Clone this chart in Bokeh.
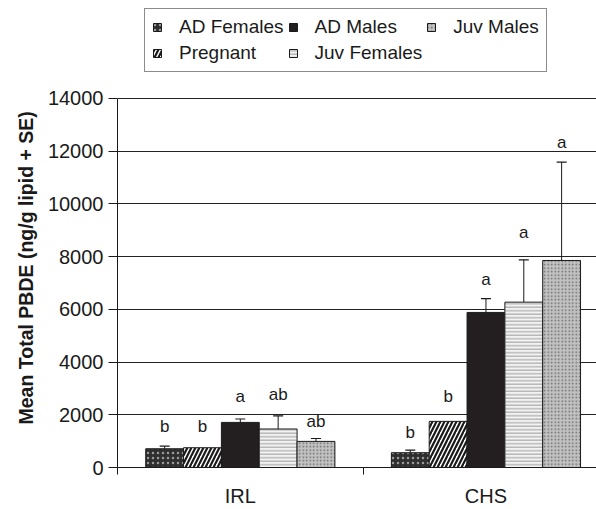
from bokeh.plotting import figure
from bokeh.models import (Range1d, FixedTicker, Legend, LegendItem, Title,
                          ColumnDataSource, Whisker, TeeHead, BasicTickFormatter)
from bokeh.embed import file_html
from bokeh.resources import INLINE
from bokeh.core.properties import value

# ---- data ----
sites = ["IRL", "CHS"]
groups = ["AD Females", "Pregnant", "AD Males", "Juv Females", "Juv Males"]
mean_ad_females = [710, 560]
mean_pregnant = [750, 1750]
mean_ad_males = [1710, 5880]
mean_juv_females = [1460, 6270]
mean_juv_males = [990, 7850]
se_top_ad_females = [810, 660]
se_top_pregnant = [None, None]
se_top_ad_males = [1840, 6400]
se_top_juv_females = [1960, 7870]
se_top_juv_males = [1100, 11580]
letters_irl = ["b", "b", "a", "ab", "ab"]
letters_chs = ["b", "b", "a", "a", "a"]
letter_y_irl = [1560, 1560, 2710, 2770, 1760]
letter_y_chs = [1320, 2710, 7120, 8910, 12310]
y_ticks = [0, 2000, 4000, 6000, 8000, 10000, 12000, 14000]
y_title = "Mean Total PBDE (ng/g lipid + SE)"

means = [mean_ad_females, mean_pregnant, mean_ad_males, mean_juv_females, mean_juv_males]
tops = [se_top_ad_females, se_top_pregnant, se_top_ad_males, se_top_juv_females, se_top_juv_males]

FONT = "Liberation Sans"
bar_w = 0.154
centers = [i + 0.5 for i in range(len(sites))]
y_max = y_ticks[-1]
# frame reaches the top of the canvas (room for the legend); axis max sits 98px below
y_view_end = y_max * 468.0 / 370.0

styles = [
    dict(fill_color="#2e2e2e", hatch_pattern=".", hatch_color="#9a9a9a", hatch_scale=5, hatch_weight=1.5),
    dict(fill_color="white", hatch_pattern="/", hatch_color="#1a1a1a", hatch_scale=8, hatch_weight=2.2),
    dict(fill_color="#231f20"),
    dict(fill_color="#f2f2f2", hatch_pattern="-", hatch_color="#b4b4b4", hatch_scale=3.5, hatch_weight=1.4),
    dict(fill_color="#c2c2c2", hatch_pattern=".", hatch_color="#6a6a6a", hatch_scale=3.5, hatch_weight=1.3),
]

p = figure(width=596, height=509, output_backend="svg", toolbar_location=None,
           x_range=Range1d(0, 1.95), y_range=Range1d(0, y_view_end),
           min_border_left=117, min_border_top=0, min_border_bottom=41, min_border_right=0)
p.outline_line_color = None
p.background_fill_color = "white"
p.border_fill_color = "white"

renderers = []
for gi, g in enumerate(groups):
    xs = [c + (gi - 2) * bar_w for c in centers]
    src = ColumnDataSource(dict(x=xs, top=means[gi]))
    r = p.vbar(x="x", top="top", width=bar_w, bottom=0, source=src,
               line_color="#1a1a1a", line_width=1, **styles[gi])
    renderers.append(r)
    if tops[gi][0] is not None:
        wsrc = ColumnDataSource(dict(x=xs, lower=means[gi], upper=tops[gi]))
        w = Whisker(base="x", lower="lower", upper="upper", source=wsrc, dimension="height",
                    line_color="#1a1a1a", line_width=1,
                    upper_head=TeeHead(size=10, line_color="#1a1a1a", line_width=1.2),
                    lower_head=None)
        p.add_layout(w)

# significance letters
lx, ly, lt = [], [], []
for si, (letters, ys) in enumerate([(letters_irl, letter_y_irl), (letters_chs, letter_y_chs)]):
    for gi in range(len(groups)):
        lx.append(centers[si] + (gi - 2) * bar_w)
        ly.append(ys[gi])
        lt.append(letters[gi])
p.text(x=lx, y=ly, text=lt, text_align="center", text_baseline="middle",
       text_font=value(FONT), text_font_size="17px", text_color="#1a1a1a")

# grid
p.xgrid.visible = False
p.ygrid.ticker = FixedTicker(ticks=y_ticks)
p.ygrid.grid_line_color = "#222222"
p.ygrid.grid_line_width = 1

# y axis
p.yaxis.bounds = (0, y_max)
p.yaxis.ticker = FixedTicker(ticks=y_ticks)
p.yaxis.formatter = BasicTickFormatter(use_scientific=False)
p.yaxis.major_label_text_font = FONT
p.yaxis.major_label_text_font_size = "20px"
p.yaxis.major_label_text_color = "#1a1a1a"
p.yaxis.major_label_standoff = 5
p.yaxis.major_tick_out = 9
p.yaxis.major_tick_in = 0
p.yaxis.minor_tick_line_color = None
p.yaxis.axis_line_color = "#1a1a1a"
p.yaxis.major_tick_line_color = "#1a1a1a"

# y-axis title as a left-side title (so it can sit on the 0-14000 span)
ytitle = Title(text=y_title, align="left", offset=43, standoff=16,
               text_font=FONT, text_font_style="bold", text_font_size="19.5px",
               text_color="#1a1a1a")
p.add_layout(ytitle, "left")

# x axis
p.xaxis.ticker = FixedTicker(ticks=centers, minor_ticks=[0, 1, 2])
p.xaxis.major_label_overrides = {c: s for c, s in zip(centers, sites)}
p.xaxis.major_tick_line_color = None
p.xaxis.major_tick_out = 0
p.xaxis.major_tick_in = 0
p.xaxis.minor_tick_out = 7
p.xaxis.minor_tick_in = 0
p.xaxis.minor_tick_line_color = "#1a1a1a"
p.xaxis.axis_line_color = "#1a1a1a"
p.xaxis.major_label_text_font = FONT
p.xaxis.major_label_text_font_size = "20px"
p.xaxis.major_label_text_color = "#1a1a1a"
p.xaxis.major_label_standoff = 10

# legend
order = [0, 2, 4, 1, 3]
items = [LegendItem(label=groups[i], renderers=[renderers[i]]) for i in order]
legend = Legend(items=items, location=(27, 395), orientation="horizontal", ncols=3,
                glyph_width=10, glyph_height=10, label_height=20, label_standoff=17, spacing=4,
                padding=7, margin=0,
                label_text_font=FONT, label_text_font_size="19px", label_text_color="#1a1a1a",
                border_line_color="#1a1a1a", border_line_width=1,
                background_fill_color="white", background_fill_alpha=1)
p.add_layout(legend, "center")

open("out.html", "w").write(file_html(p, INLINE))
